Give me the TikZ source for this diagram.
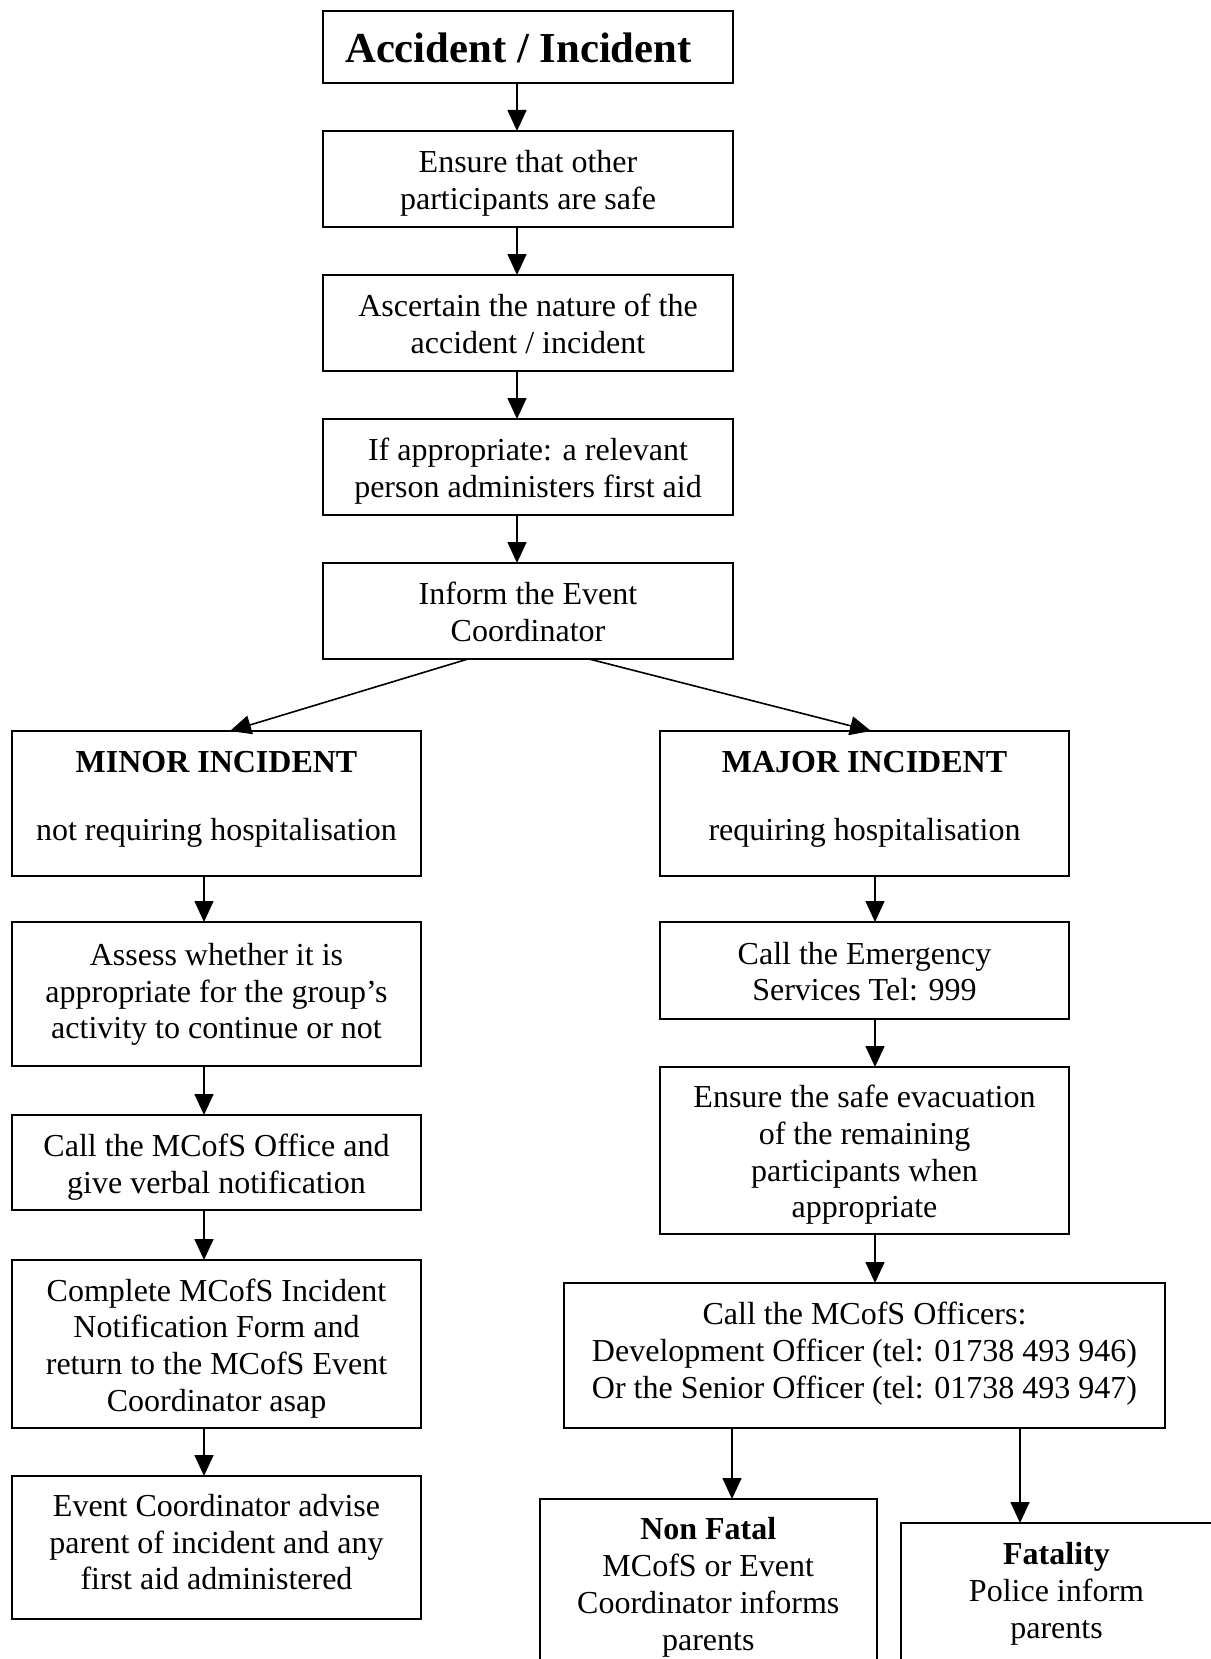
\documentclass[tikz,border=0pt]{standalone}
\usepackage{fontspec}
\setmainfont{Liberation Serif}
\usetikzlibrary{arrows.meta}
\begin{document}
\begin{tikzpicture}[x=1pt,y=1pt,
  box/.style={draw, line width=2pt, inner sep=0pt, outer sep=0pt},
  txt/.style={align=center, inner sep=0pt, font=\fontsize{32}{36.8}\selectfont,
              execute at begin node=\strut, execute at end node=\strut},
  arr/.style={line width=1.6pt, -{Triangle[length=21pt,width=19pt]}}
]
\fill[white] (0,0) rectangle (1210,-1659);
\useasboundingbox (0,0) rectangle (1210,-1659);

% main column
\node[box, minimum width=410pt, minimum height=72pt] (title) at (528,-47) {};
\node[anchor=base west, inner sep=0pt, font=\fontsize{42.7}{48}\selectfont\bfseries] (titletext) at (345,-63) {Accident / Incident};
\node[box, minimum width=410pt, minimum height=96pt] (ensure) at (528,-179) {};
\node[txt] (ensuretext) at ([yshift=-6.5pt]ensure.center) {Ensure that other\\participants are safe};
\node[box, minimum width=410pt, minimum height=96pt] (ascertain) at (528,-323) {};
\node[txt] (ascertaintext) at ([yshift=-6.5pt]ascertain.center) {Ascertain the nature of the\\accident / incident};
\node[box, minimum width=410pt, minimum height=96pt] (firstaid) at (528,-467) {};
\node[txt] (firstaidtext) at ([yshift=-6.5pt]firstaid.center) {If appropriate: a relevant\\person administers first aid};
\node[box, minimum width=410pt, minimum height=96pt] (inform) at (528,-611) {};
\node[txt] (informtext) at ([yshift=-6.5pt]inform.center) {Inform the Event\\Coordinator};

% left column
\node[box, minimum width=409pt, minimum height=145pt] (minor) at (216.5,-803.5) {};
\node[txt] (minortext) at (216.5,-801.5) {\textbf{MINOR INCIDENT}\\[31.5pt]not requiring hospitalisation};
\node[box, minimum width=409pt, minimum height=144pt] (assess) at (216.5,-994) {};
\node[txt] (assesstext) at ([yshift=-2.5pt]assess.center) {Assess whether it is\\appropriate for the group’s\\activity to continue or not};
\node[box, minimum width=409pt, minimum height=95pt] (office) at (216.5,-1162.5) {};
\node[txt] (officetext) at ([yshift=-6.5pt]office.center) {Call the MCofS Office and\\give verbal notification};
\node[box, minimum width=409pt, minimum height=168pt] (complete) at (216.5,-1344) {};
\node[txt] (completetext) at ([yshift=-6.5pt]complete.center) {Complete MCofS Incident\\Notification Form and\\return to the MCofS Event\\Coordinator asap};
\node[box, minimum width=409pt, minimum height=143pt] (eventc) at (216.5,-1547.5) {};
\node[txt] (eventctext) at (eventc.center) {Event Coordinator advise\\parent of incident and any\\first aid administered};

% right column
\node[box, minimum width=408.5pt, minimum height=145pt] (major) at (864.5,-803.5) {};
\node[txt] (majortext) at (864.5,-801.5) {\textbf{MAJOR INCIDENT}\\[31.5pt]requiring hospitalisation};
\node[box, minimum width=408.5pt, minimum height=97pt] (emergency) at (864.5,-970.5) {};
\node[txt] (emergencytext) at ([yshift=-6.5pt]emergency.center) {Call the Emergency\\Services Tel: 999};
\node[box, minimum width=408.5pt, minimum height=167pt] (safe) at (864.5,-1150.5) {};
\node[txt] (safetext) at ([yshift=-6.5pt]safe.center) {Ensure the safe evacuation\\of the remaining\\participants when\\appropriate};
\node[box, minimum width=601pt, minimum height=145pt] (officers) at (864.5,-1355.5) {};
\node[txt] (officerstext) at (officers.center) {Call the MCofS Officers:\\Development Officer (tel: 01738 493 946)\\Or the Senior Officer (tel: 01738 493 947)};
\node[box, anchor=north, minimum width=336.5pt, minimum height=250pt] (nonfatal) at (708.25,-1499) {};
\node[txt] (nonfataltext) at (708.25,-1589.5) {\textbf{Non Fatal}\\MCofS or Event\\Coordinator informs\\parents};
\node[box, anchor=north west, minimum width=400pt, minimum height=250pt] (fatality) at (901,-1523) {};
\node[txt] (fatalitytext) at (1056.5,-1595.6) {\textbf{Fatality}\\Police inform\\parents};

% connector x positions
\coordinate (mx) at (517,0);
\coordinate (lx) at (204,0);
\coordinate (rx) at (875,0);
\coordinate (nx) at (732,0);
\coordinate (fx) at (1020,0);
\coordinate (dl) at (468,0);
\coordinate (dr) at (589,0);
\coordinate (tl) at (230,0);
\coordinate (tr) at (871,0);

\draw[arr] (title.south -| mx) -- (ensure.north -| mx);
\draw[arr] (ensure.south -| mx) -- (ascertain.north -| mx);
\draw[arr] (ascertain.south -| mx) -- (firstaid.north -| mx);
\draw[arr] (firstaid.south -| mx) -- (inform.north -| mx);
\draw[arr] (inform.south -| dl) -- (minor.north -| tl);
\draw[arr] (inform.south -| dr) -- (major.north -| tr);

\draw[arr] (minor.south -| lx) -- (assess.north -| lx);
\draw[arr] (assess.south -| lx) -- (office.north -| lx);
\draw[arr] (office.south -| lx) -- (complete.north -| lx);
\draw[arr] (complete.south -| lx) -- (eventc.north -| lx);

\draw[arr] (major.south -| rx) -- (emergency.north -| rx);
\draw[arr] (emergency.south -| rx) -- (safe.north -| rx);
\draw[arr] (safe.south -| rx) -- (officers.north -| rx);
\draw[arr] (officers.south -| nx) -- (nonfatal.north -| nx);
\draw[arr] (officers.south -| fx) -- (fatality.north -| fx);
\end{tikzpicture}
\end{document}
